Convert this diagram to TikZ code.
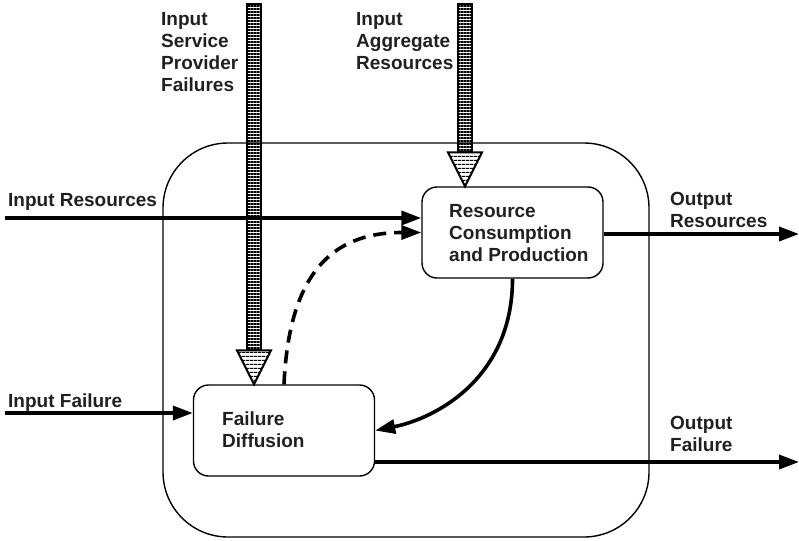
\documentclass[tikz,border=0pt]{standalone}
\usepackage{fontspec}
\setmainfont{Liberation Sans}
\usetikzlibrary{arrows.meta,calc,patterns.meta}
\definecolor{txt}{RGB}{35,31,32}
\begin{document}
\begin{tikzpicture}[x=1pt,y=-1pt,
  lbl/.style={anchor=north west,inner sep=0pt,align=left,text=txt,
    font=\fontsize{19pt}{22pt}\selectfont\bfseries},
  outerbox/.style={draw,line width=1.4pt,rounded corners=65pt,minimum width=486pt,minimum height=394pt,inner sep=0pt},
  procbox/.style={draw,line width=1.4pt,rounded corners=15pt,minimum width=181pt,minimum height=91pt,inner sep=0pt},
  flow/.style={line width=3.6pt,-{Triangle[length=20pt,width=14pt]}},
  dflow/.style={flow,dash pattern=on 13pt off 8pt},
  hatch/.style={line width=2pt,fill=white,pattern={Lines[angle=0,distance=3pt,line width=1.2pt]}},
  hatchhead/.style={line width=2pt,line join=miter,fill=white,pattern={Lines[angle=0,distance=4pt,line width=1pt]}}
]
\useasboundingbox (0,0) rectangle (799,540);

\node[outerbox] (sys) at (406,340) {};
\node[procbox] (RCP) at (512.5,232.5) {};
\node[procbox] (FD) at (284,430.5) {};

\node[lbl] (rcpT) at (449,204) {Resource\\Consumption\\and Production};
\node[lbl] (fdT) at (222,412) {Failure\\Diffusion};

\node[lbl] (spfT) at (161,12) {Input\\Service\\Provider\\Failures};
\node[lbl] (iarT) at (356,12) {Input\\Aggregate\\Resources};
\node[lbl] (irT) at (8,193) {Input Resources};
\node[lbl] (ifT) at (8,394) {Input Failure};
\node[lbl] (orT) at (670,192) {Output\\Resources};
\node[lbl] (ofT) at (670,416) {Output\\Failure};

\coordinate (irS) at (5,218);
\coordinate (ifS) at (5,413);
\coordinate (orE) at (799,234);
\coordinate (ofE) at (799,462);

\draw[flow] (irS) -- (irS -| RCP.west);
\draw[flow] (ifS) -- (ifS -| FD.west);
\draw[flow] (RCP.east |- orE) -- (orE);
\draw[flow] (ofE -| FD.east) -- (ofE);
\draw[dflow] (FD.north) .. controls ($(FD.north)+(5,-110)$) and ($(RCP.west)+(-90,0)$) .. (RCP.west);
\draw[flow] (RCP.south) .. controls ($(RCP.south)+(0,100)$) and ($(FD.east)+(60,-12)$) .. (FD.east);

% hatched input arrows
\coordinate (spfTop) at (254,4);
\coordinate (spfTip) at (spfTop |- FD.north);
\coordinate (iarTop) at (465,4);
\coordinate (iarTip) at (iarTop |- RCP.north);

\draw[hatch] ([xshift=-7pt]spfTop) rectangle ([xshift=7pt,yshift=34pt]spfTip);
\draw[hatchhead] ([xshift=-17pt,yshift=34pt]spfTip) -- ([xshift=17pt,yshift=34pt]spfTip) -- (spfTip) -- cycle;
\draw[hatch] ([xshift=-7pt]iarTop) rectangle ([xshift=7pt,yshift=34pt]iarTip);
\draw[hatchhead] ([xshift=-17pt,yshift=34pt]iarTip) -- ([xshift=17pt,yshift=34pt]iarTip) -- (iarTip) -- cycle;
\end{tikzpicture}
\end{document}
